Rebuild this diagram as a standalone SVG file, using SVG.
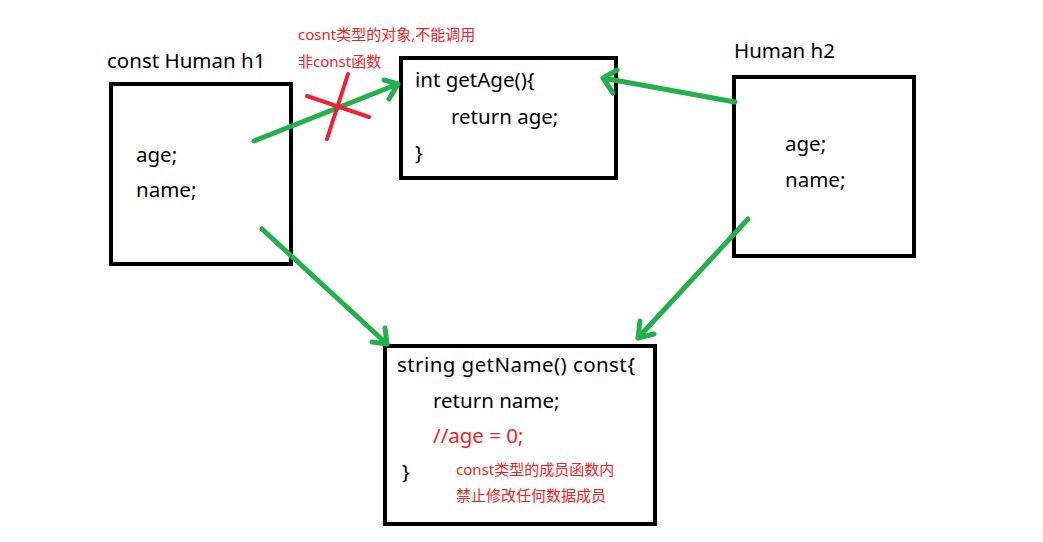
<svg xmlns="http://www.w3.org/2000/svg" width="1043" height="542" viewBox="0 0 1043 542">
<style>
.box{fill:#fff;stroke:#000;stroke-width:4}
.t{font-family:"Noto Sans","Liberation Sans",sans-serif;font-size:20.5px;fill:#000}
.r{font-family:"Noto Sans","Noto Sans CJK SC",sans-serif;font-size:15px;fill:#ee2222}
.g{stroke:#22b04a;stroke-width:5;fill:none;stroke-linecap:round;stroke-linejoin:round}
.x{stroke:#ee2233;stroke-width:4;stroke-linecap:round}
</style>
<rect width="1043" height="542" fill="#fff"/>
<g id="h1">
<text class="t" x="107" y="68">const Human h1</text>
<rect class="box" x="111" y="84" width="180" height="180"/>
<text class="t" x="136" y="162">age;</text>
<text class="t" x="136" y="197">name;</text>
</g>
<g id="getAge">
<rect class="box" x="401" y="58" width="215" height="120"/>
<text class="t" x="415" y="87">int getAge(){</text>
<text class="t" x="451" y="124">return age;</text>
<text class="t" x="415" y="160">}</text>
</g>
<g id="h2">
<text class="t" x="734" y="58">Human h2</text>
<rect class="box" x="734" y="77" width="180" height="179"/>
<text class="t" x="785" y="151">age;</text>
<text class="t" x="785" y="187">name;</text>
</g>
<g id="getName">
<rect class="box" x="385" y="346" width="270" height="178"/>
<text class="t" x="397" y="372" textLength="238">string getName() const{</text>
<text class="t" x="433" y="408">return name;</text>
<text class="t" x="433" y="443" style="fill:#ee2222">//age = 0;</text>
<text class="t" x="402" y="479">}</text>
<text class="r" x="456" y="475">const类型的成员函数内</text>
<text class="r" x="456" y="501">禁止修改任何数据成员</text>
</g>
<g id="note">
<text class="r" x="298" y="40">cosnt类型的对象,不能调用</text>
<text class="r" x="298" y="67">非const函数</text>
</g>
<g id="connectors">
<path class="g" d="M254 141 L398 84 M384 80 L398 84 L389 99"/>
<path class="g" d="M735 102 L603 78 M617 70 L603 78 L613 93"/>
<path class="g" d="M262 229 L387 344 M385 328 L387 344 L372 342"/>
<path class="g" d="M748 219 L638 338 M640 321 L638 338 L654 334"/>
<line class="x" x1="307" y1="96" x2="369" y2="117"/>
<line class="x" x1="348" y1="74" x2="327" y2="139"/>
</g>
</svg>
